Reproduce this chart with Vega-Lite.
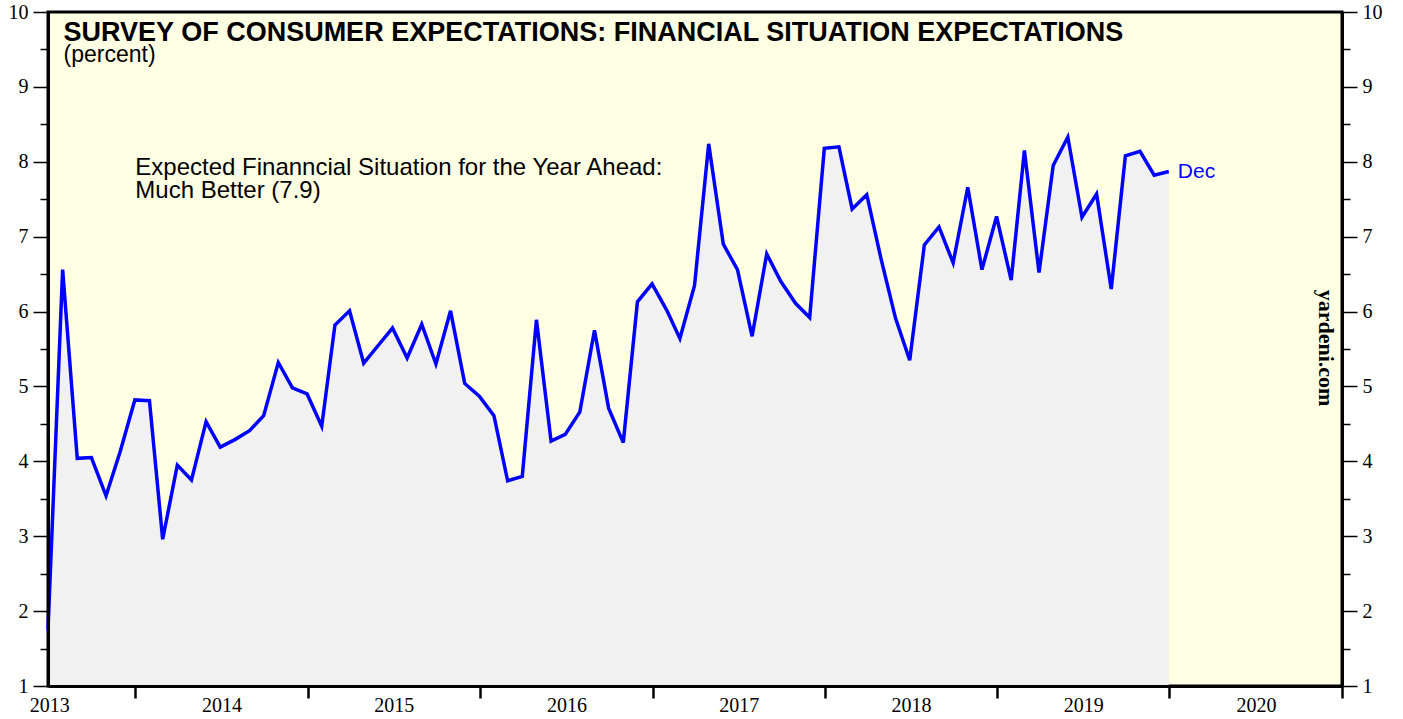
{
  "$schema": "https://vega.github.io/schema/vega-lite/v6.json",
  "width": 1294,
  "height": 674,
  "autosize": "none",
  "padding": {"left": 48, "top": 12, "right": 61, "bottom": 33},
  "background": "white",
  "config": {
    "view": {"fill": "#FFFFE3", "stroke": "black", "strokeWidth": 3},
    "axis": {"grid": false, "domain": true, "domainColor": "black", "domainWidth": 3, "tickColor": "black", "labelColor": "black", "labelFont": "Liberation Serif", "labelFontSize": 20, "tickWidth": 1.5}
  },
  "data": {"values": [
    {"date": "2013-06-30", "value": 1.75},
    {"date": "2013-07-31", "value": 6.56},
    {"date": "2013-08-31", "value": 4.04},
    {"date": "2013-09-30", "value": 4.05},
    {"date": "2013-10-31", "value": 3.54},
    {"date": "2013-11-30", "value": 4.13},
    {"date": "2013-12-31", "value": 4.82},
    {"date": "2014-01-31", "value": 4.81},
    {"date": "2014-02-28", "value": 2.96},
    {"date": "2014-03-31", "value": 3.95},
    {"date": "2014-04-30", "value": 3.75},
    {"date": "2014-05-31", "value": 4.53},
    {"date": "2014-06-30", "value": 4.19},
    {"date": "2014-07-31", "value": 4.29},
    {"date": "2014-08-31", "value": 4.41},
    {"date": "2014-09-30", "value": 4.61},
    {"date": "2014-10-31", "value": 5.32},
    {"date": "2014-11-30", "value": 4.98},
    {"date": "2014-12-31", "value": 4.90},
    {"date": "2015-01-31", "value": 4.47},
    {"date": "2015-02-28", "value": 5.82},
    {"date": "2015-03-31", "value": 6.01},
    {"date": "2015-04-30", "value": 5.31},
    {"date": "2015-05-31", "value": 5.55},
    {"date": "2015-06-30", "value": 5.78},
    {"date": "2015-07-31", "value": 5.38},
    {"date": "2015-08-31", "value": 5.83},
    {"date": "2015-09-30", "value": 5.30},
    {"date": "2015-10-31", "value": 6.01},
    {"date": "2015-11-30", "value": 5.04},
    {"date": "2015-12-31", "value": 4.87},
    {"date": "2016-01-31", "value": 4.61},
    {"date": "2016-02-29", "value": 3.74},
    {"date": "2016-03-31", "value": 3.80},
    {"date": "2016-04-30", "value": 5.89},
    {"date": "2016-05-31", "value": 4.27},
    {"date": "2016-06-30", "value": 4.36},
    {"date": "2016-07-31", "value": 4.66},
    {"date": "2016-08-31", "value": 5.75},
    {"date": "2016-09-30", "value": 4.71},
    {"date": "2016-10-31", "value": 4.25},
    {"date": "2016-11-30", "value": 6.13},
    {"date": "2016-12-31", "value": 6.37},
    {"date": "2017-01-31", "value": 6.02},
    {"date": "2017-02-28", "value": 5.64},
    {"date": "2017-03-31", "value": 6.35},
    {"date": "2017-04-30", "value": 8.24},
    {"date": "2017-05-31", "value": 6.90},
    {"date": "2017-06-30", "value": 6.56},
    {"date": "2017-07-31", "value": 5.67},
    {"date": "2017-08-31", "value": 6.77},
    {"date": "2017-09-30", "value": 6.40},
    {"date": "2017-10-31", "value": 6.11},
    {"date": "2017-11-30", "value": 5.92},
    {"date": "2017-12-31", "value": 8.18},
    {"date": "2018-01-31", "value": 8.20},
    {"date": "2018-02-28", "value": 7.37},
    {"date": "2018-03-31", "value": 7.56},
    {"date": "2018-04-30", "value": 6.71},
    {"date": "2018-05-31", "value": 5.91},
    {"date": "2018-06-30", "value": 5.35},
    {"date": "2018-07-31", "value": 6.89},
    {"date": "2018-08-31", "value": 7.13},
    {"date": "2018-09-30", "value": 6.65},
    {"date": "2018-10-31", "value": 7.66},
    {"date": "2018-11-30", "value": 6.56},
    {"date": "2018-12-31", "value": 7.27},
    {"date": "2019-01-31", "value": 6.42},
    {"date": "2019-02-28", "value": 8.15},
    {"date": "2019-03-31", "value": 6.52},
    {"date": "2019-04-30", "value": 7.95},
    {"date": "2019-05-31", "value": 8.33},
    {"date": "2019-06-30", "value": 7.26},
    {"date": "2019-07-31", "value": 7.57},
    {"date": "2019-08-31", "value": 6.30},
    {"date": "2019-09-30", "value": 8.08},
    {"date": "2019-10-31", "value": 8.14},
    {"date": "2019-11-30", "value": 7.82},
    {"date": "2019-12-31", "value": 7.87}
  ]},
  "layer": [
    {
      "mark": {"type": "area", "color": "#F1F1F1", "opacity": 1},
      "encoding": {
        "x": {
          "field": "date", "type": "temporal",
          "scale": {"domain": [{"year": 2013, "month": 6, "date": 30, "utc": true}, {"year": 2021, "month": 1, "date": 1, "utc": true}]}
        },
        "y": {"field": "value", "type": "quantitative", "axis": null, "scale": {"domain": [1, 10], "zero": false, "nice": false}},
        "y2": {"datum": 1}
      }
    },
    {
      "mark": {"type": "line", "color": "#0000FF", "strokeWidth": 3.5, "strokeJoin": "miter"},
      "encoding": {
        "x": {
          "field": "date", "type": "temporal",
          "axis": {
            "orient": "bottom", "title": null, "zindex": 1,
            "values": [
              {"year": 2014, "month": 1, "date": 1, "utc": true},
              {"year": 2015, "month": 1, "date": 1, "utc": true},
              {"year": 2016, "month": 1, "date": 1, "utc": true},
              {"year": 2017, "month": 1, "date": 1, "utc": true},
              {"year": 2018, "month": 1, "date": 1, "utc": true},
              {"year": 2019, "month": 1, "date": 1, "utc": true},
              {"year": 2020, "month": 1, "date": 1, "utc": true},
              {"year": 2021, "month": 1, "date": 1, "utc": true}
            ],
            "labelExpr": "'' + (utcyear(datum.value) - 1)",
            "labelOffset": -86,
            "tickSize": 12, "tickWidth": 2.5, "labelPadding": -3, "labelOverlap": false, "labelBound": false, "labelFlush": false,
            "labelBaseline": "top"
          }
        },
        "y": {
          "field": "value", "type": "quantitative",
          "axis": {
            "orient": "left", "title": null, "zindex": 1,
            "values": [1, 1.5, 2, 2.5, 3, 3.5, 4, 4.5, 5, 5.5, 6, 6.5, 7, 7.5, 8, 8.5, 9, 9.5, 10],
            "labelExpr": "datum.value % 1 === 0 ? format(datum.value, 'd') : ''",
            "tickSize": {"condition": {"test": "datum.value % 1 === 0", "value": 15}, "value": 8},
            "labelPadding": 5, "labelOverlap": false, "labelBound": false, "labelFlush": false
          }
        }
      }
    },
    {
      "transform": [{"filter": "utcyear(datum.date) === 2019 && utcmonth(datum.date) === 11"}],
      "mark": {"type": "text", "text": "Dec", "color": "#0000FF", "font": "Liberation Sans", "fontSize": 21, "align": "left", "baseline": "middle", "dx": 9},
      "encoding": {
        "x": {"field": "date", "type": "temporal"},
        "y": {
          "field": "value", "type": "quantitative",
          "axis": {
            "orient": "right", "title": null, "zindex": 1,
            "values": [1, 1.5, 2, 2.5, 3, 3.5, 4, 4.5, 5, 5.5, 6, 6.5, 7, 7.5, 8, 8.5, 9, 9.5, 10],
            "labelExpr": "datum.value % 1 === 0 ? format(datum.value, 'd') : ''",
            "tickSize": {"condition": {"test": "datum.value % 1 === 0", "value": 15}, "value": 8},
            "labelPadding": 5, "labelOverlap": false, "labelBound": false, "labelFlush": false
          }
        }
      }
    },
    {
      "data": {"values": [{"label": "SURVEY OF CONSUMER EXPECTATIONS: FINANCIAL SITUATION EXPECTATIONS"}]},
      "mark": {"type": "text", "font": "Liberation Sans", "fontWeight": "bold", "fontSize": 27, "align": "left", "baseline": "alphabetic", "color": "black"},
      "encoding": {
        "x": {"datum": {"year": 2013, "month": 8, "date": 2, "utc": true}, "type": "temporal"},
        "y": {"datum": 9.609, "type": "quantitative", "axis": null},
        "text": {"field": "label"}
      }
    },
    {
      "data": {"values": [{"label": "(percent)"}]},
      "mark": {"type": "text", "font": "Liberation Sans", "fontSize": 23, "align": "left", "baseline": "alphabetic", "color": "black"},
      "encoding": {
        "x": {"datum": {"year": 2013, "month": 8, "date": 2, "utc": true}, "type": "temporal"},
        "y": {"datum": 9.332, "type": "quantitative", "axis": null},
        "text": {"field": "label"}
      }
    },
    {
      "data": {"values": [{"label": "Expected Finanncial Situation for the Year Ahead:", "line": 1}, {"label": "Much Better (7.9)", "line": 2}]},
      "transform": [{"filter": "datum.line === 1"}],
      "mark": {"type": "text", "font": "Liberation Sans", "fontSize": 24, "align": "left", "baseline": "alphabetic", "color": "black"},
      "encoding": {
        "x": {"datum": {"year": 2014, "month": 1, "date": 1, "utc": true}, "type": "temporal"},
        "y": {"datum": 7.823, "type": "quantitative", "axis": null},
        "text": {"field": "label"}
      }
    },
    {
      "data": {"values": [{"label": "Expected Finanncial Situation for the Year Ahead:", "line": 1}, {"label": "Much Better (7.9)", "line": 2}]},
      "transform": [{"filter": "datum.line === 2"}],
      "mark": {"type": "text", "font": "Liberation Sans", "fontSize": 24, "align": "left", "baseline": "alphabetic", "color": "black"},
      "encoding": {
        "x": {"datum": {"year": 2014, "month": 1, "date": 1, "utc": true}, "type": "temporal"},
        "y": {"datum": 7.516, "type": "quantitative", "axis": null},
        "text": {"field": "label"}
      }
    },
    {
      "data": {"values": [{"label": "yardeni.com"}]},
      "mark": {"type": "text", "font": "Liberation Serif", "fontWeight": "bold", "fontSize": 22, "align": "center", "baseline": "middle", "angle": 90, "color": "black"},
      "encoding": {
        "x": {"datum": {"year": 2020, "month": 11, "date": 29, "utc": true}, "type": "temporal"},
        "y": {"datum": 5.513, "type": "quantitative", "axis": null},
        "text": {"field": "label"}
      }
    }
  ],
  "resolve": {"axis": {"y": "independent"}}
}
